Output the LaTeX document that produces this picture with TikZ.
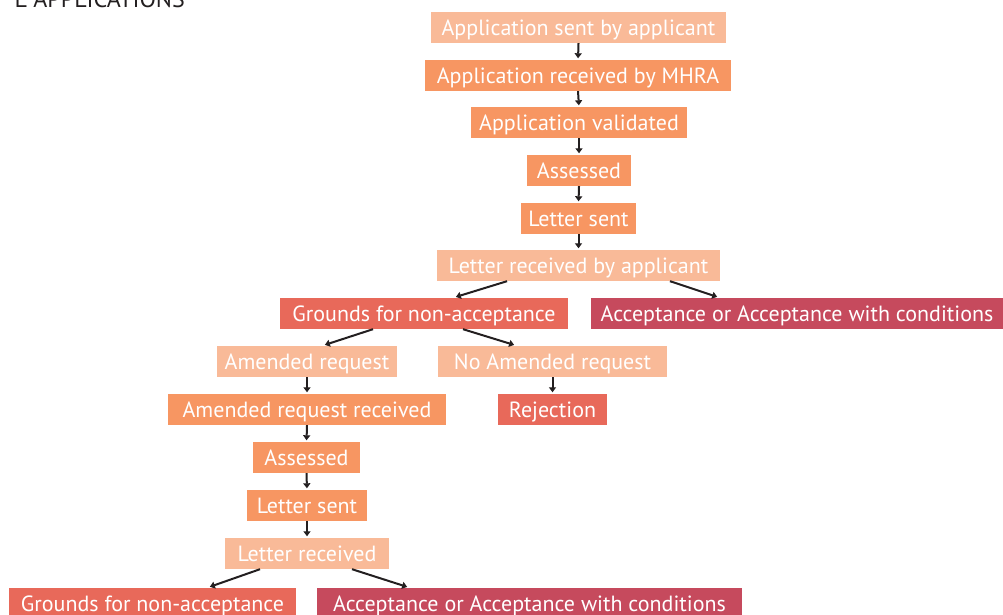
\documentclass[tikz,border=0pt]{standalone}
\usepackage{fontspec}
\setmainfont{PT Sans}
\usetikzlibrary{arrows.meta}
\definecolor{cLight}{HTML}{F9BA98}
\definecolor{cOrange}{HTML}{F79662}
\definecolor{cRed}{HTML}{E8695A}
\definecolor{cCrim}{HTML}{C64A5D}
\definecolor{cInk}{HTML}{231F20}
\tikzset{
  box/.style={rectangle, inner sep=0pt, minimum height=31pt, text=white,
    font=\fontsize{22}{22}\selectfont, text height=15.4pt, text depth=0pt, anchor=center},
  light/.style={box, fill=cLight},
  orng/.style={box, fill=cOrange},
  redb/.style={box, fill=cRed},
  crim/.style={box, fill=cCrim},
  arr/.style={draw=cInk, line width=2pt, -{Triangle[length=5pt,width=7pt]}, shorten >=1.5pt},
}
\begin{document}
\begin{tikzpicture}[x=1pt,y=-1pt]
\useasboundingbox (0,0) rectangle (1003,615);
\node[anchor=base east, text=cInk, font=\fontsize{24}{24}\selectfont, inner sep=0pt] (title) at (185,8) {L APPLICATIONS};
% main column
\node[light, minimum width=295pt] (n1) at (578.5,27.5) {Application sent by applicant};
\node[orng, minimum width=306pt] (n2) at (578,75.5) {Application received by MHRA};
\node[orng, minimum width=216pt] (n3) at (579,122.5) {Application validated};
\node[orng, minimum width=104pt] (n4) at (579,170.5) {Assessed};
\node[orng, minimum width=115pt] (n5) at (578.5,218.5) {Letter sent};
\node[light, minimum width=283pt] (n6) at (578.5,265.5) {Letter received by applicant};
\node[redb, minimum width=288pt] (g1) at (424,313.5) {Grounds for non-acceptance};
\node[crim, minimum width=412pt] (a1) at (797,313.5) {Acceptance or Acceptance with conditions};
\node[light, minimum width=180pt] (m1) at (307,361.5) {Amended request};
\node[light, minimum width=229pt] (m2) at (552.5,361.5) {No Amended request};
\node[orng, minimum width=278pt] (m3) at (307,409.5) {Amended request received};
\node[redb, minimum width=109pt] (rj) at (552.5,409.5) {Rejection};
\node[orng, minimum width=107pt] (m4) at (306.5,457.5) {Assessed};
\node[orng, minimum width=120pt] (m5) at (307,505.5) {Letter sent};
\node[light, minimum width=164pt] (m6) at (307,553.5) {Letter received};
\node[redb, minimum width=287pt] (g2) at (152.5,603.5) {Grounds for non-acceptance};
\node[crim, minimum width=425pt] (a2) at (529.5,603.5) {Acceptance or Acceptance with conditions};
% vertical arrows
\draw[arr] (n1.south) -- (n2.north);
\draw[arr] (n2.south) -- (n3.north);
\draw[arr] (n3.south) -- (n4.north);
\draw[arr] (n4.south) -- (n5.north);
\draw[arr] (n5.south) -- (n6.north);
\draw[arr] (m1.south) -- (m3.north);
\draw[arr] (m2.south) -- (rj.north);
\draw[arr] (m3.south) -- (m4.north);
\draw[arr] (m4.south) -- (m5.north);
\draw[arr] (m5.south) -- (m6.north);
% diagonal arrows
\draw[arr, shorten >=3pt] ([xshift=-71.5pt]n6.south) -- ([xshift=29pt]g1.north);
\draw[arr, shorten >=3pt] ([xshift=91.5pt]n6.south) -- ([xshift=-77pt]a1.north);
\draw[arr, shorten >=3pt] ([xshift=-51pt]g1.south) -- ([xshift=15pt]m1.north);
\draw[arr, shorten >=3pt] ([xshift=39pt]g1.south) -- ([xshift=-35.5pt]m2.north);
\draw[arr, shorten >=3pt] ([xshift=-47pt]m6.south) -- ([xshift=54.5pt]g2.north);
\draw[arr, shorten >=3pt] ([xshift=45pt]m6.south) -- ([xshift=-119.5pt]a2.north);
\end{tikzpicture}
\end{document}
